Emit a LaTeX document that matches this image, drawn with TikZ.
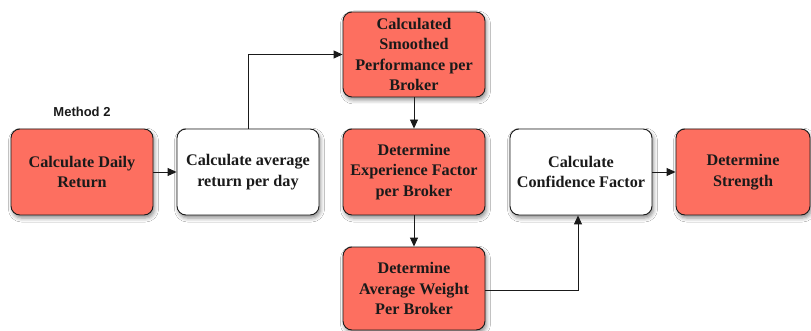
\documentclass[tikz,border=0pt]{standalone}
\usepackage{fontspec}
\setmainfont{Liberation Serif}
\newfontfamily\labelfont{Liberation Sans}
\usetikzlibrary{arrows.meta,shadows.blur}
\definecolor{stepred}{HTML}{FD6F60}
\definecolor{inkdark}{HTML}{1A1A1A}
\tikzset{
  flowbox/.style={draw=inkdark, line width=0.9pt, rounded corners=9pt,
    minimum width=142pt, minimum height=86pt, align=center, inner sep=2pt,
    font=\bfseries\fontsize{16.2}{20.5}\selectfont, text=inkdark,
    blur shadow={shadow xshift=1.5pt, shadow yshift=-3pt,
      shadow blur radius=4pt, shadow opacity=45}},
  redbox/.style={flowbox, fill=stepred},
  whitebox/.style={flowbox, fill=white},
  link/.style={draw=inkdark, line width=0.9pt,
    -{Triangle[length=9pt,width=8pt]}}
}
\begin{document}
\begin{tikzpicture}[x=1pt,y=-1pt]
  \useasboundingbox (0,0) rectangle (811,331);
  \fill[white] (0,0) rectangle (811,331);

  \node[font=\labelfont\bfseries\fontsize{13}{15}\selectfont, text=inkdark]
    (method) at (82,112) {Method 2};

  \node[redbox]   (daily)   at (82,172)    {Calculate Daily\\Return};
  \node[whitebox] (avg)     at (248,172)   {Calculate average\\return per day};
  \node[redbox, minimum height=85pt] (smooth) at (414,54.5)
    {Calculated\\Smoothed\\Performance per\\Broker};
  \node[redbox]   (exper)   at (414,172)   {Determine\\Experience Factor\\per Broker};
  \node[redbox, minimum height=83pt] (weight) at (414,288.5)
    {Determine\\Average Weight\\Per Broker};
  \node[whitebox] (conf)    at (581,172)   {Calculate\\Confidence Factor};
  \node[redbox, minimum width=134pt] (strength) at (743,172)
    {Determine\\Strength};

  \draw[link] (daily) -- (avg);
  \draw[link] (avg.north) |- (smooth.west);
  \draw[link] (smooth) -- (exper);
  \draw[link] (exper) -- (weight);
  \coordinate (turn) at (578,290);
  \draw[link] (weight.east |- turn) -- (turn) -- (turn |- conf.south);
  \draw[link] (conf) -- (strength);
\end{tikzpicture}
\end{document}
